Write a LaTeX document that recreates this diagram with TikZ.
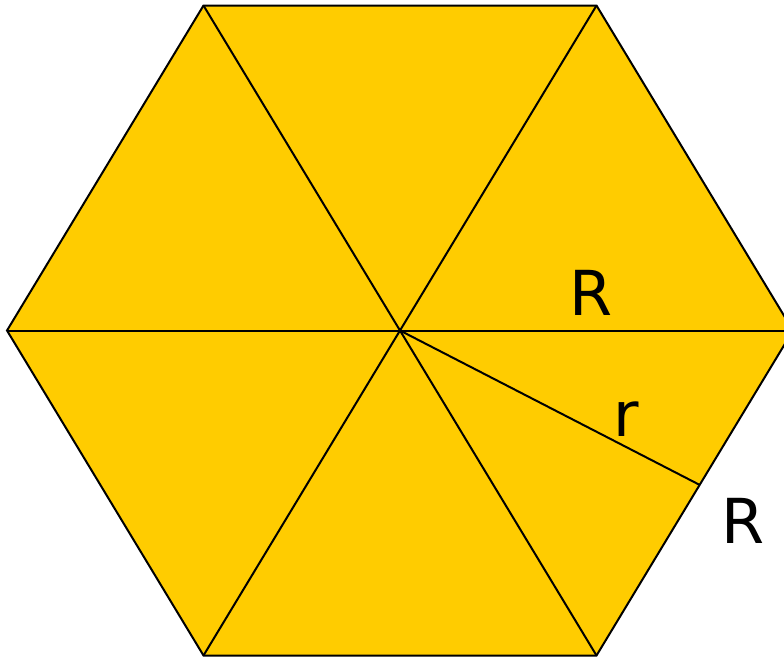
\documentclass[tikz,border=0pt]{standalone}
\usepackage{fontspec}
\setmainfont{DejaVu Sans}
\usetikzlibrary{calc}
\definecolor{hexfill}{RGB}{255,204,0}

\begin{document}
\begin{tikzpicture}[x=1pt,y=-1pt]
\useasboundingbox (0,0) rectangle (784,657);
\clip (0,0) rectangle (784,657);
\def\cx{400}
\def\cy{330.5}
\def\R{393}
\def\hh{325}
\coordinate (O) at (\cx,\cy);
\coordinate (A) at ({\cx+\R},\cy);
\coordinate (B) at ({\cx+\R/2},{\cy-\hh});
\coordinate (C) at ({\cx-\R/2},{\cy-\hh});
\coordinate (D) at ({\cx-\R},\cy);
\coordinate (E) at ({\cx-\R/2},{\cy+\hh});
\coordinate (F) at ({\cx+\R/2},{\cy+\hh});
\coordinate (M) at ($(A)!0.475!(F)$);

\fill[hexfill] (A) -- (B) -- (C) -- (D) -- (E) -- (F) -- cycle;
\draw[line width=2pt, line join=miter] (A) -- (B) -- (C) -- (D) -- (E) -- (F) -- cycle;
\foreach \v in {A,B,C,D,E,F}
  \draw[line width=2pt] (O) -- (\v);
\draw[line width=2pt] (O) -- (M);

\node[anchor=base, inner sep=0pt, font=\fontsize{62}{62}\selectfont] (lR1) at (591,315) {R};
\node[anchor=base, inner sep=0pt, font=\fontsize{62}{62}\selectfont] (lr) at (626,436) {r};
\node[anchor=base, inner sep=0pt, font=\fontsize{62}{62}\selectfont] (lR2) at (743,543) {R};
\end{tikzpicture}
\end{document}
